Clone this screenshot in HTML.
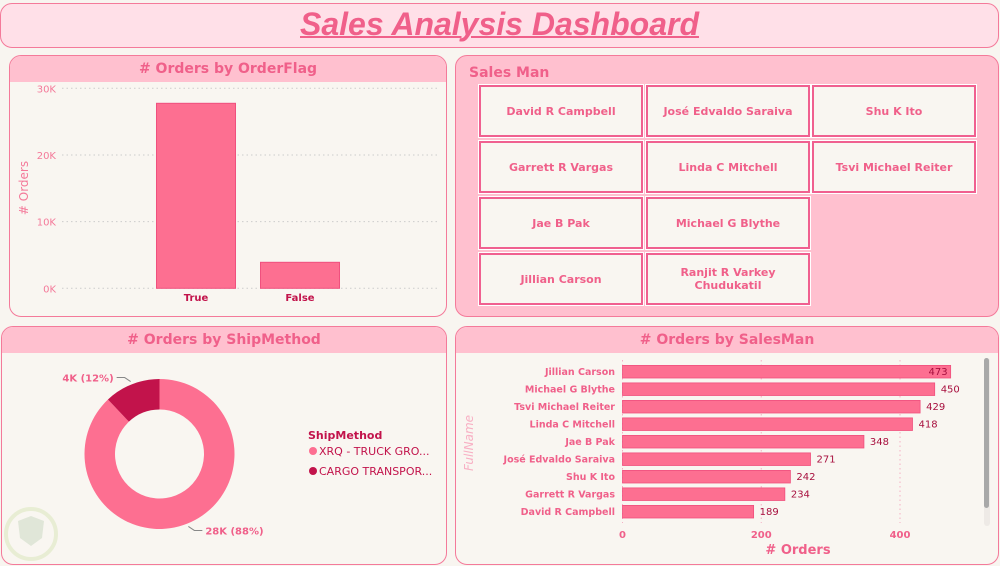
<!DOCTYPE html>
<html><head><meta charset="utf-8">
<style>
body{margin:0;width:1000px;height:566px;background:#f8f5f0;position:relative;overflow:hidden;font-family:"DejaVu Sans","Liberation Sans",sans-serif;}
.p{position:absolute;box-sizing:border-box;border:1.5px solid #f47a9a;border-radius:12px;background:#f9f6f1;overflow:hidden;}
.band{position:absolute;left:0;right:0;top:0;height:26px;background:#ffc0cf;color:#f0608a;font-weight:bold;font-size:14px;text-align:center;line-height:27px;}
.btn{position:absolute;box-sizing:border-box;width:164px;height:52px;border:2px solid #f06090;outline:1px solid #fff;background:#f9f6f1;color:#f0608a;font-weight:bold;font-size:11px;display:flex;align-items:center;justify-content:center;text-align:center;line-height:13px;}
svg{position:absolute;left:0;top:0;}
</style></head><body>
<div class="p" style="left:0;top:3px;width:999px;height:45px;background:#ffe0e8;">
 <div style="position:absolute;left:0;right:0;top:2px;text-align:center;font-family:'Liberation Sans',sans-serif;font-style:italic;font-weight:bold;font-size:32px;color:#f0608a;text-decoration:underline;text-decoration-thickness:2px;">Sales Analysis Dashboard</div>
</div>

<div class="p" style="left:9px;top:55px;width:438px;height:262px;">
 <div class="band">#&nbsp;Orders by OrderFlag</div>
</div>
<div class="p" style="left:455px;top:55px;width:544px;height:262px;background:#ffc0cf;">
 <div style="position:absolute;left:13px;top:9px;color:#f0608a;font-weight:bold;font-size:14px;">Sales Man</div>
</div>
<div class="p" style="left:1px;top:326px;width:446px;height:239px;">
 <div class="band">#&nbsp;Orders by ShipMethod</div>
</div>
<div class="p" style="left:455px;top:326px;width:544px;height:239px;">
 <div class="band">#&nbsp;Orders by SalesMan</div>
</div>

<div class="btn" style="left:479px;top:85px;">David R Campbell</div>
<div class="btn" style="left:646px;top:85px;">José Edvaldo Saraiva</div>
<div class="btn" style="left:812px;top:85px;">Shu K Ito</div>
<div class="btn" style="left:479px;top:141px;">Garrett R Vargas</div>
<div class="btn" style="left:646px;top:141px;">Linda C Mitchell</div>
<div class="btn" style="left:812px;top:141px;">Tsvi Michael Reiter</div>
<div class="btn" style="left:479px;top:197px;">Jae B Pak</div>
<div class="btn" style="left:646px;top:197px;">Michael G Blythe</div>
<div class="btn" style="left:479px;top:253px;">Jillian Carson</div>
<div class="btn" style="left:646px;top:253px;">Ranjit R Varkey<br>Chudukatil</div>

<svg id="s" width="1000" height="566" font-family="DejaVu Sans, Liberation Sans, sans-serif">
 <g opacity="0.5">
  <circle cx="31" cy="534" r="25" fill="none" stroke="#d8e6b8" stroke-width="4"/>
  <path d="M18 521 L31 516 L44 521 L42 538 L31 546 L20 538Z" fill="#c8d8c0"/>
 </g>
 <text transform="translate(28,188) rotate(-90)" text-anchor="middle" font-size="12" fill="#f47a9a"># Orders</text>
 <text transform="translate(473,443) rotate(-90)" text-anchor="middle" font-size="12" font-style="italic" fill="#f8b0c4">FullName</text>
 <text x="798" y="554" text-anchor="middle" font-size="13" font-weight="bold" fill="#f0608a"># Orders</text>
 <rect x="984" y="358" width="6" height="168" rx="3" fill="#eeeae6"/>
 <rect x="984" y="358" width="5" height="150" rx="2.5" fill="#a8a8a8"/>
 <g>
  <text x="308" y="439" font-size="11" font-weight="bold" fill="#c2134b">ShipMethod</text>
  <circle cx="313" cy="451" r="4" fill="#fd6f91"/>
  <text x="319" y="455" font-size="11" fill="#c2134b">XRQ - TRUCK GRO...</text>
  <circle cx="313" cy="471" r="4" fill="#c2134b"/>
  <text x="319" y="475" font-size="11" fill="#c2134b">CARGO TRANSPOR...</text>
 </g>
</svg>
<script>
// Chart 1: Orders by OrderFlag
const flagCats = ["True","False"];
const flagVals = [27750,3900];
const flagTicks = [0,10000,20000,30000];
const flagTickLabels = ["0K","10K","20K","30K"];
// Chart 2: Orders by ShipMethod
const shipCats = ["XRQ - TRUCK GROUND","CARGO TRANSPORT 5"];
const shipVals = [27700,3800];
const shipLabels = ["28K (88%)","4K (12%)"];
// Chart 3: Orders by SalesMan
const smNames = ["Jillian Carson","Michael G Blythe","Tsvi Michael Reiter","Linda C Mitchell","Jae B Pak","José Edvaldo Saraiva","Shu K Ito","Garrett R Vargas","David R Campbell"];
const smVals = [473,450,429,418,348,271,242,234,189];
const smTicks = [0,200,400];

const NS="http://www.w3.org/2000/svg";
const svg=document.getElementById('s');
function mk(t,a,txt){const e=document.createElementNS(NS,t);for(const k in a)e.setAttribute(k,a[k]);if(txt!=null)e.textContent=txt;svg.appendChild(e);return e;}

// chart 1
const fy=v=>288.3-v/30000*200;
const fx=i=>144+104*(i+0.5);
flagTicks.forEach((t,i)=>{
 const l=mk('line',{x1:62,x2:437,y1:fy(t),y2:fy(t),stroke:'#ccc','stroke-dasharray':'1.5,3'});
 
 
 const tx=mk('text',{x:56,y:fy(t)+4,'text-anchor':'end','font-size':10,fill:'#f47a9a'},flagTickLabels[i]);
 
 
});
flagCats.forEach((c,i)=>{
 const r=mk('rect',{x:fx(i)-39.5,y:fy(flagVals[i]),width:79,height:fy(0)-fy(flagVals[i]),fill:'#fd6f91',stroke:'#f0507e','stroke-width':1});
 
 
 const t=mk('text',{x:fx(i),y:301,'text-anchor':'middle','font-size':10,'font-weight':'bold',fill:'#c2134b'},c);
 
 
});

// chart 2 donut
const cx=159.5,cy=454,R=75,r0=44.5;
const tot=shipVals.reduce((a,b)=>a+b,0);
let a0=0;
const cols=['#fd6f91','#c2134b'];
shipVals.forEach((v,i)=>{
 const a1=a0+v/tot*2*Math.PI;
 const p=(r,a)=>[cx+r*Math.sin(a),cy-r*Math.cos(a)];
 const [x1,y1]=p(R,a0),[x2,y2]=p(R,a1),[x3,y3]=p(r0,a1),[x4,y4]=p(r0,a0);
 const lg=(a1-a0)>Math.PI?1:0;
 const s=mk('path',{d:`M${x1} ${y1}A${R} ${R} 0 ${lg} 1 ${x2} ${y2}L${x3} ${y3}A${r0} ${r0} 0 ${lg} 0 ${x4} ${y4}Z`,fill:cols[i]});
 
 
 const am=(a0+a1)/2;
 const [ex,ey]=p(R+3,am);
 const right=Math.sin(am)>=0;
 const bx=ex+(right?6:-6), by=ey+(Math.cos(am)<0?4:-4);
 const ln=mk('polyline',{points:`${ex},${ey} ${bx},${by} ${bx+(right?8:-8)},${by}`,fill:'none',stroke:'#888','stroke-width':1});
 
 
 const t=mk('text',{x:bx+(right?11:-11),y:by+4,'text-anchor':right?'start':'end','font-size':10,'font-weight':'bold',fill:'#f0608a'},shipLabels[i]);
 
 
 a0=a1;
});

// chart 3
const sx=v=>622.5+v/400*277.5;
const sy=i=>371.7+17.5*i;
smTicks.forEach(t=>{
 const l=mk('line',{x1:sx(t),x2:sx(t),y1:360,y2:523,stroke:'#f5b0c4','stroke-dasharray':'1.5,3'});
 
 
 const tx=mk('text',{x:sx(t),y:538,'text-anchor':'middle','font-size':10,'font-weight':'bold',fill:'#f0608a'},t);
 
 
});
smNames.forEach((n,i)=>{
 const r=mk('rect',{x:sx(0),y:sy(i)-6.3,width:sx(smVals[i])-sx(0),height:12.6,fill:'#fd6f91',stroke:'#f0507e','stroke-width':0.8});
 
 
 const t=mk('text',{x:615,y:sy(i)+3.5,'text-anchor':'end','font-size':9.5,'font-weight':'bold',fill:'#f0608a'},n);
 
 
 const inside=sx(smVals[i])+25>968;
 const v=mk('text',{x:inside?sx(smVals[i])-3:sx(smVals[i])+6,y:sy(i)+3.5,'text-anchor':inside?'end':'start','font-size':10,fill:'#a8103f'},smVals[i]);
 
 
});
</script>
</body></html>
